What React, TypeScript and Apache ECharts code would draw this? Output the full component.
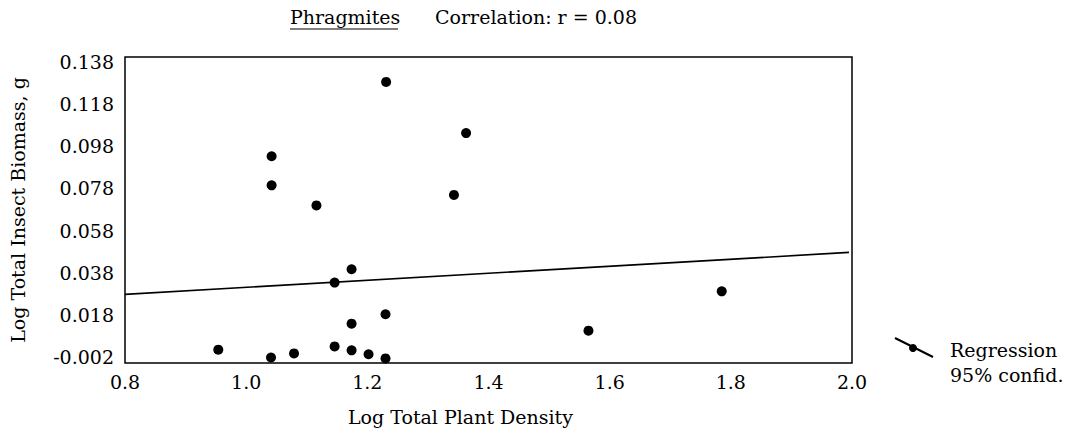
import React, { useEffect, useRef } from "react";
import * as echarts from "echarts";

const xValues = [1.231, 1.363, 1.042, 1.042, 1.116, 1.343, 1.174, 1.146, 1.23, 1.174, 0.954, 1.041, 1.079, 1.146, 1.174, 1.202, 1.23, 1.785, 1.565];
const yValues = [0.1266, 0.1032, 0.0926, 0.0793, 0.0701, 0.0749, 0.0409, 0.0348, 0.0203, 0.016, 0.0041, 0.0005, 0.0024, 0.0056, 0.0038, 0.002, 0.0001, 0.0308, 0.0128];
const regX = [0.8, 1.995];
const regY = [0.0294, 0.0486];
const xTicks = [0.8, 1.0, 1.2, 1.4, 1.6, 1.8, 2.0];
const yTicks = [-0.002, 0.018, 0.038, 0.058, 0.078, 0.098, 0.118, 0.138];

const FONT = "DejaVu Serif";

export default function App() {
  const ref = useRef<HTMLDivElement>(null);
  useEffect(() => {
    if (!ref.current) return;
    const chart = echarts.init(ref.current, null, { renderer: "svg" });
    const points = xValues.map((x, i) => [x, yValues[i]]);
    const reg = regX.map((x, i) => [x, regY[i]]);
    chart.setOption({
      animation: false,
      backgroundColor: "#fff",
      textStyle: { fontFamily: FONT, color: "#000" },
      grid: {
        left: 124,
        top: 57,
        right: 232,
        bottom: 79,
        show: true,
        borderColor: "#000",
        borderWidth: 1.5,
        backgroundColor: "transparent",
      },
      xAxis: {
        type: "value",
        min: 0.8,
        max: 2.0,
        name: "Log Total Plant Density",
        nameLocation: "middle",
        nameGap: 44,
        nameTextStyle: { fontFamily: FONT, fontSize: 19, color: "#000", padding: [0, 56, 0, 0] },
        axisLine: { show: false },
        axisTick: { show: false },
        splitLine: { show: false },
        axisLabel: {
          customValues: xTicks,
          formatter: (v: number) => v.toFixed(1),
          fontFamily: FONT,
          fontSize: 19,
          color: "#000",
          margin: 9,
        },
      },
      yAxis: [
        {
          type: "value",
          min: -0.002,
          max: 0.138,
          name: "Log Total Insect Biomass, g",
          nameLocation: "middle",
          nameGap: 98,
          nameTextStyle: { fontFamily: FONT, fontSize: 19, color: "#000" },
          axisLine: { show: false },
          axisTick: { show: false },
          splitLine: { show: false },
          axisLabel: { show: false },
        },
        {
          type: "value",
          position: "left",
          min: -0.00485,
          max: 0.14037,
          axisLine: { show: false },
          axisTick: { show: false },
          splitLine: { show: false },
          axisLabel: {
            customValues: yTicks,
            formatter: (v: number) => v.toFixed(3),
            fontFamily: FONT,
            fontSize: 19,
            color: "#000",
            margin: 11,
          },
        },
      ],
      series: [
        {
          name: "Regression",
          type: "line",
          yAxisIndex: 0,
          data: reg,
          symbol: "none",
          lineStyle: { color: "#000", width: 1.6 },
          z: 2,
        },
        {
          name: "Observations",
          type: "scatter",
          yAxisIndex: 0,
          data: points,
          symbol: "circle",
          symbolSize: 10,
          itemStyle: { color: "#000", opacity: 1 },
          clip: false,
          z: 3,
        },
      ],
      graphic: [
        {
          type: "text",
          left: 290,
          top: 7,
          style: { text: "Phragmites", font: `19px "${FONT}"`, fill: "#000" },
        },
        {
          type: "line",
          shape: { x1: 290, y1: 29, x2: 398, y2: 29 },
          style: { stroke: "#000", lineWidth: 1.2 },
        },
        {
          type: "text",
          left: 435,
          top: 7,
          style: { text: "Correlation: r = 0.08", font: `19px "${FONT}"`, fill: "#000" },
        },
        {
          type: "line",
          shape: { x1: 895, y1: 338, x2: 933, y2: 357 },
          style: { stroke: "#000", lineWidth: 2 },
        },
        {
          type: "circle",
          shape: { cx: 913, cy: 348, r: 4 },
          style: { fill: "#000" },
        },
        {
          type: "text",
          x: 950,
          y: 350,
          style: { text: "Regression", font: `19px "${FONT}"`, fill: "#000", verticalAlign: "middle" },
        },
        {
          type: "text",
          x: 950,
          y: 375,
          style: { text: "95% confid.", font: `19px "${FONT}"`, fill: "#000", verticalAlign: "middle" },
        },
      ],
    });
    return () => chart.dispose();
  }, []);
  return (
    <div
      ref={ref}
      style={{ position: "fixed", left: 0, top: 0, width: 1084, height: 442, background: "#fff" }}
    />
  );
}
